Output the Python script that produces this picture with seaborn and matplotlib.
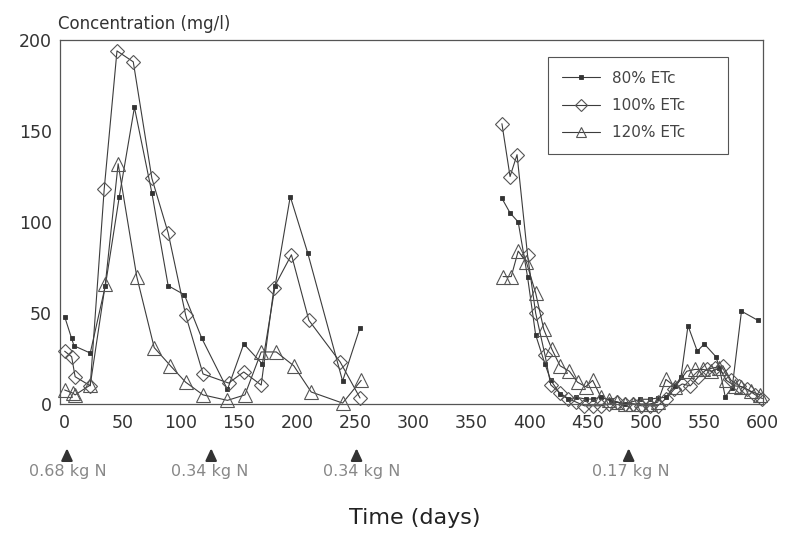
import matplotlib
matplotlib.use("Agg")
import matplotlib.pyplot as plt
from matplotlib.lines import Line2D
import numpy as np
import pandas as pd
import seaborn as sns

# ---------------- data ----------------
series_names = ["80% ETc", "100% ETc", "120% ETc"]

# first season
days80_a = [0, 6, 8, 22, 35, 47, 60, 75, 89, 103, 118, 140, 154, 170, 181, 194, 209, 239, 254]
conc80_a = [48, 36, 32, 28, 65, 114, 163, 116, 65, 60, 36, 8, 33, 22, 65, 114, 83, 12.6, 42]
days100_a = [0, 6, 9, 22, 34, 45, 59, 75, 89, 104, 119, 141, 154, 169, 180, 195, 210, 237, 254]
conc100_a = [29, 26, 15, 10, 118, 194, 188, 124, 94, 49, 16.5, 11.5, 17.6, 10.4, 64, 82, 46, 23, 3.3]
days120_a = [0, 7, 9, 22, 35, 46, 62, 77, 91, 104, 119, 140, 155, 169, 182, 197, 212, 239, 255]
conc120_a = [7.7, 6, 5, 10.4, 66, 132, 70, 31, 21, 12, 5, 2, 5, 28.6, 28.6, 21, 6.6, 0.5, 13]

# second season
days80_b = [376, 383, 390, 398, 405, 413, 418, 426, 433, 440, 448, 454, 461, 470, 482, 495, 503, 510,
            517, 525, 530, 536, 544, 550, 560, 563, 568, 574, 582, 596]
conc80_b = [113, 105, 100, 70, 38, 22, 13, 5.5, 2.7, 3.7, 2.7, 2.7, 3.7, 2, 0, 2.6, 2.6, 3.3,
            3.7, 10, 15, 43, 29, 33, 26, 20, 4, 9, 51, 46]
days100_b = [376, 383, 389, 398, 405, 413, 418, 426, 433, 440, 447, 454, 461, 468, 475, 482, 489, 496,
             503, 510, 517, 524, 531, 538, 545, 552, 559, 566, 573, 580, 587, 594, 600]
conc100_b = [154, 125, 137, 82, 50, 27, 10.5, 6, 3, 1, -1, -1, -1, 0, 1, 0, 0, -1,
             -1, -1, 3, 8, 11, 10, 15, 19, 20, 21, 13, 10, 8, 5, 3]
days120_b = [377, 384, 390, 397, 405, 412, 419, 426, 434, 441, 448, 454, 461, 468, 475, 482, 489, 496,
             503, 510, 517, 525, 535, 542, 549, 556, 563, 569, 576, 582, 590, 598]
conc120_b = [70, 70, 84, 78, 61, 41, 30, 21, 18, 12, 9.5, 13, 4, 2, 1, 0, 0, 0,
             0, 1, 13.5, 9.5, 18, 19, 19, 18, 19.6, 13, 10, 9.5, 7, 5]

x_ticks = list(range(0, 601, 50))
y_ticks = [0, 50, 100, 150, 200]

fert_days = [2, 126, 251, 485]
fert_label_days = [3, 125, 255, 487]
fert_labels = ["0.68 kg N", "0.34 kg N", "0.34 kg N", "0.17 kg N"]

# ---------------- table ----------------
rows = []
blocks = {
    "80% ETc": [(days80_a, conc80_a), (days80_b, conc80_b)],
    "100% ETc": [(days100_a, conc100_a), (days100_b, conc100_b)],
    "120% ETc": [(days120_a, conc120_a), (days120_b, conc120_b)],
}
for s, blist in blocks.items():
    for bi, (dd, cc) in enumerate(blist):
        for d, c in zip(dd, cc):
            rows.append({"series": s, "block": bi, "day": d, "conc": c})
df = pd.DataFrame(rows)

# ---------------- style ----------------
sns.set_theme(style="white")
plt.rcParams["font.family"] = ["DejaVu Sans"]

line_color = "#3c3c3c"
marker_styles = {
    "80% ETc": dict(marker="s", markersize=3.2, markerfacecolor="#333333",
                    markeredgecolor="#333333", markeredgewidth=0.6),
    "100% ETc": dict(marker="D", markersize=7.5, markerfacecolor="none",
                     markeredgecolor="#555555", markeredgewidth=0.8),
    "120% ETc": dict(marker="^", markersize=10.5, markerfacecolor="none",
                     markeredgecolor="#555555", markeredgewidth=0.8),
}
legend_marker_sizes = {"80% ETc": 3.0, "100% ETc": 6.5, "120% ETc": 7.5}

W, H = 787, 538
fig = plt.figure(figsize=(W / 100, H / 100), dpi=100)
ax = fig.add_axes([60 / W, 1 - 404 / H, 703 / W, 364 / H])

for s in series_names:
    for b in (0, 1):
        sub = df[(df.series == s) & (df.block == b)]
        sns.lineplot(data=sub, x="day", y="conc", ax=ax, color=line_color, lw=0.8,
                     estimator=None, sort=False, legend=False, clip_on=False,
                     **marker_styles[s])

ax.set_xlim(-4, 600.5)
ax.set_ylim(0, 200)
ax.set_xticks(x_ticks)
ax.set_yticks(y_ticks)
ax.set_xlabel("")
ax.set_ylabel("")
for sp in ax.spines.values():
    sp.set_visible(True)
    sp.set_color("#555555")
    sp.set_linewidth(0.9)
ax.tick_params(axis="both", direction="in", length=5, width=0.8, color="#555555",
               labelcolor="#333333", labelsize=12.5)
ax.tick_params(axis="x", pad=7)
ax.tick_params(axis="y", pad=6)

handles = []
for s in series_names:
    st = dict(marker_styles[s])
    st["markersize"] = legend_marker_sizes[s]
    handles.append(Line2D([], [], color=line_color, lw=0.8, **st))
x0 = (548 - 60) / 703
x1 = (728 - 60) / 703
y1 = (404 - 57) / 364
y0 = (404 - 152) / 364
leg = ax.legend(handles, series_names, loc="upper left", bbox_to_anchor=(x0, y0, x1 - x0, y1 - y0),
                mode="expand", frameon=True, fancybox=False, edgecolor="#555555", framealpha=1,
                fontsize=11, labelspacing=0.8, handlelength=2.5, borderpad=0.9,
                handletextpad=0.8, borderaxespad=0)
leg.get_frame().set_linewidth(0.8)
for t in leg.get_texts():
    t.set_color("#444444")

ax.text(-0.003, 1.044, "Concentration (mg/l)", transform=ax.transAxes, ha="left",
        va="center", fontsize=12, color="#333333")

tr = ax.get_xaxis_transform()
for d, dl, lab in zip(fert_days, fert_label_days, fert_labels):
    ax.annotate("", xy=(d, -0.114), xycoords=tr, xytext=(d, -0.162), textcoords=tr,
                arrowprops=dict(arrowstyle="-|>,head_width=0.28,head_length=0.6",
                                color="#333333", lw=1.6),
                annotation_clip=False)
    ax.text(dl, -0.185, lab, transform=tr, ha="center", va="center", fontsize=11.5,
            color="#888888")

fig.text(415 / W, 1 - 518 / H, "Time (days)", ha="center", va="center",
         fontsize=16, color="#222222")

fig.savefig("out.png", dpi=100)
